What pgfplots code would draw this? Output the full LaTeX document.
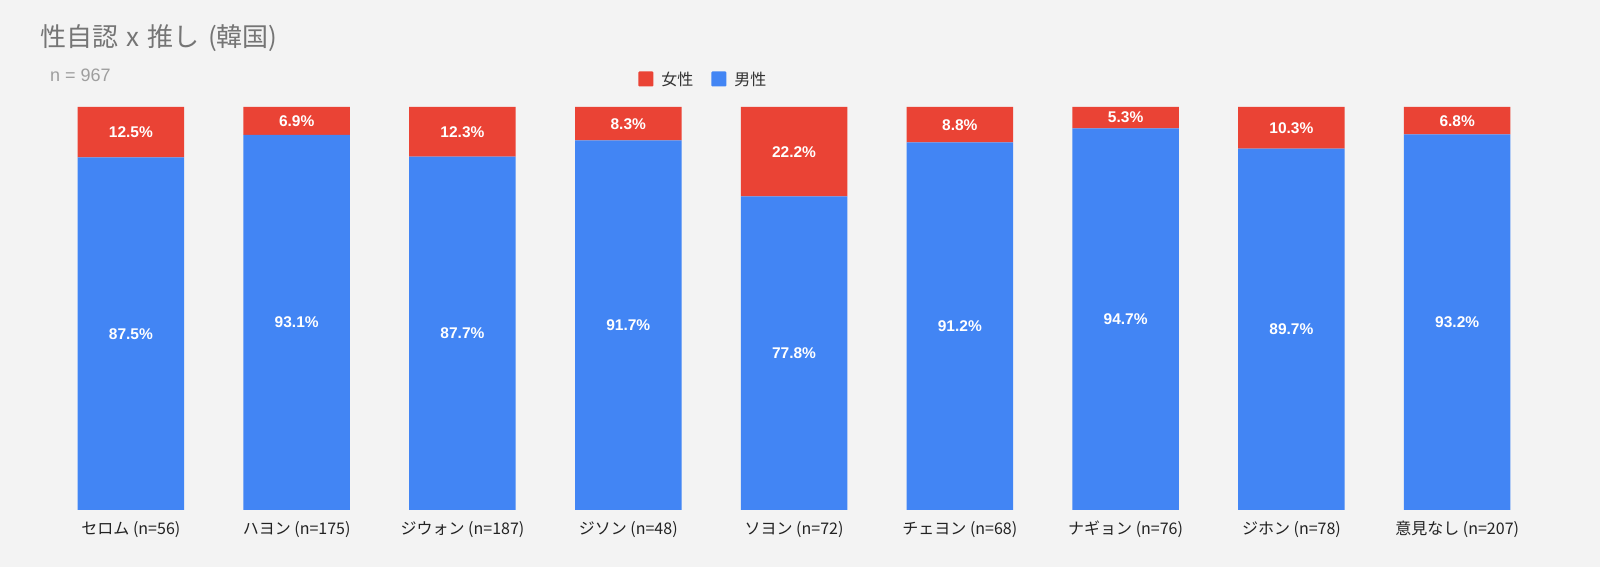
\documentclass[border=0pt]{standalone}
\usepackage{fontspec}
\setmainfont{Noto Sans CJK JP}
\newfontfamily\numfont{Liberation Sans}
\usepackage{pgfplots}
\pgfplotsset{compat=1.18}
\usepackage{pgfplotstable}
\definecolor{bg}{HTML}{F3F3F3}
\definecolor{cred}{HTML}{EA4335}
\definecolor{cblue}{HTML}{4285F4}
\definecolor{ctitle}{HTML}{757575}
\definecolor{csub}{HTML}{9E9E9E}
\definecolor{ctick}{HTML}{222222}
\definecolor{clegend}{HTML}{333333}
\pgfplotstableread{
x female male
0 12.5 87.5
1 6.9 93.1
2 12.3 87.7
3 8.3 91.7
4 22.2 77.8
5 8.8 91.2
6 5.3 94.7
7 10.3 89.7
8 6.8 93.2
}\data
\begin{document}
\begin{tikzpicture}
\fill[bg] (0,0) rectangle (1600pt,567pt);
\node[anchor=base west, text=ctitle, font=\fontsize{26}{30}\selectfont, inner sep=0] at (40pt,520pt) {性自認\hspace{0.32em}x\hspace{0.32em}推し\hspace{0.32em}(韓国)};
\node[anchor=base west, text=csub, font=\numfont\fontsize{18}{21}\selectfont, inner sep=0] at (50pt,485.5pt) {n = 967};
\begin{axis}[
  at={(48pt,57pt)}, anchor=south west, scale only axis,
  width=1492.2pt, height=403pt,
  xmin=-0.5, xmax=8.5, ymin=0, ymax=100,
  ybar stacked, bar width=106.5pt,
  axis line style={draw=none}, ytick=\empty,
  xtick={0,...,8}, major tick length=0pt,
  xticklabels={セロム (n=56), ハヨン (n=175), ジウォン (n=187), ジソン (n=48), ソヨン (n=72), チェヨン (n=68), ナギョン (n=76), ジホン (n=78), 意見なし (n=207)},
  xticklabel style={font=\fontsize{16}{18}\selectfont, text=ctick, anchor=base, yshift=-24.5pt},
  reverse legend,
  legend columns=2,
  legend style={draw=none, fill=none, at={(0.4393,1.067)}, anchor=center,
    font=\fontsize{16}{19}\selectfont, text=clegend,
    /tikz/every odd column/.append style={column sep=6pt},
    /tikz/every even column/.append style={column sep=16pt}},
  legend image code/.code={\fill[#1, rounded corners=1pt] (0pt,-6.5pt) rectangle (15pt,8.5pt);},
]
\addplot[fill=cblue, draw=none] table[x=x, y=male] {\data};
\addlegendentry{男性}
\addplot[fill=cred, draw=none] table[x=x, y=female] {\data};
\addlegendentry{女性}
\end{axis}
\begin{axis}[
  at={(48pt,57pt)}, anchor=south west, scale only axis,
  width=1492.2pt, height=403pt,
  xmin=-0.5, xmax=8.5, ymin=0, ymax=100,
  hide axis,
  /pgf/number format/assume math mode=true,
  point meta=explicit,
  nodes near coords={\numfont\bfseries\pgfmathprintnumber[fixed,fixed zerofill,precision=1]{\pgfplotspointmeta}\%},
  every node near coord/.append style={anchor=center, text=white, font=\fontsize{15.5}{18}\selectfont},
]
\addplot[draw=none, mark=none] table[x=x, y expr=\thisrow{male}/2, meta=male] {\data};
\addplot[draw=none, mark=none] table[x=x, y expr=\thisrow{male}+\thisrow{female}/2, meta=female] {\data};
\end{axis}
\end{tikzpicture}
\end{document}
